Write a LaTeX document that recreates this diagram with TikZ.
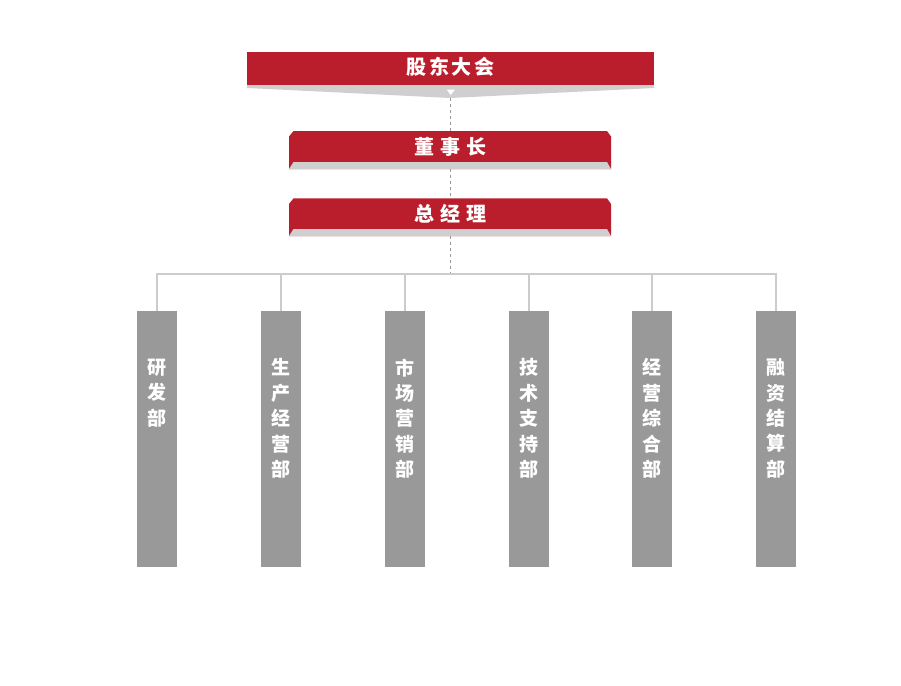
\documentclass[tikz,border=0pt]{standalone}
\usepackage{fontspec}
\newfontfamily\cjk{Noto Sans CJK SC}
\definecolor{hdred}{HTML}{BA1E2D}
\definecolor{bandgray}{HTML}{CFCFCF}
\definecolor{bargray}{HTML}{999999}
\definecolor{linegray}{HTML}{CCCCCC}
\definecolor{dashgray}{HTML}{999999}
\tikzset{
  toptext/.style={text=white, font=\cjk\bfseries\fontsize{20}{20}\selectfont, inner sep=0pt},
  boxnode/.style={minimum width=322pt, minimum height=38pt, inner sep=0pt, text=white, font=\cjk\bfseries\fontsize{20}{20}\selectfont},
  bar/.style={fill=bargray, minimum width=40pt, minimum height=256pt, inner sep=0pt},
  bartext/.style={text=white, align=center, inner sep=0pt, font=\cjk\bfseries\fontsize{19}{25.4}\selectfont},
  conn/.style={draw=linegray, line width=1.2pt},
  dashline/.style={draw=dashgray, line width=0.9pt, dash pattern=on 3pt off 3pt},
}
\begin{document}
\begin{tikzpicture}[x=1pt,y=-1pt]
\useasboundingbox (0,0) rectangle (901,685);
% top box
\fill[hdred] (247,52) rectangle (654,85);
\fill[bandgray] (247,85) -- (654,85) -- (654,88) -- (450.5,98) -- (247,88) -- cycle;
\fill[white] (446.5,89.5) -- (455,89.5) -- (450.8,95) -- cycle;
\node[toptext] (gd) at (450.5,67) {股\hspace{2.7pt}东\hspace{2.7pt}大\hspace{2.7pt}会};
\coordinate (gdtip) at (450.5,98);
% second box
\fill[hdred] (289,136.5) -- (293.5,131) -- (607,131) -- (611,136.5) -- (611,169) -- (289,169) -- cycle;
\fill[bandgray] (293.5,162) -- (607,162) -- (611,169) -- (289,169) -- cycle;
\node[boxnode] (dsz) at (450.5,150) {};
\node[toptext] (dsztext) at (450.5,146.7) {董\hspace{6pt}事\hspace{6pt}长};
% third box
\fill[hdred] (289,204) -- (293.5,198.3) -- (607,198.3) -- (611,204) -- (611,236) -- (289,236) -- cycle;
\fill[bandgray] (293.5,229) -- (607,229) -- (611,236) -- (289,236) -- cycle;
\node[boxnode] (zjl) at (450.5,217.2) {};
\node[toptext] (zjltext) at (450.5,213.3) {总\hspace{6pt}经\hspace{6pt}理};
% dashed links
\coordinate (bus) at (450.5,274);
\draw[dashline] (gdtip) -- (dsz.north);
\draw[dashline] (dsz.south) -- (zjl.north);
\draw[dashline] (zjl.south) -- (bus);
% bars
\node[bar] (b1) at (157,439) {};
\node[bar] (b2) at (281,439) {};
\node[bar] (b3) at (405,439) {};
\node[bar] (b4) at (529,439) {};
\node[bar] (b5) at (652,439) {};
\node[bar] (b6) at (776,439) {};
\draw[conn] (b1.north) |- (bus) -| (b6.north);
\draw[conn] (b2.north) -- (b2.north |- bus);
\draw[conn] (b3.north) -- (b3.north |- bus);
\draw[conn] (b4.north) -- (b4.north |- bus);
\draw[conn] (b5.north) -- (b5.north |- bus);
\node[bartext] (t1) at (157,393.1) {研\\发\\部};
\node[bartext] (t2) at (281,418.5) {生\\产\\经\\营\\部};
\node[bartext] (t3) at (405,418.5) {市\\场\\营\\销\\部};
\node[bartext] (t4) at (529,418.5) {技\\术\\支\\持\\部};
\node[bartext] (t5) at (652,418.5) {经\\营\\综\\合\\部};
\node[bartext] (t6) at (776,418.5) {融\\资\\结\\算\\部};
\end{tikzpicture}
\end{document}
